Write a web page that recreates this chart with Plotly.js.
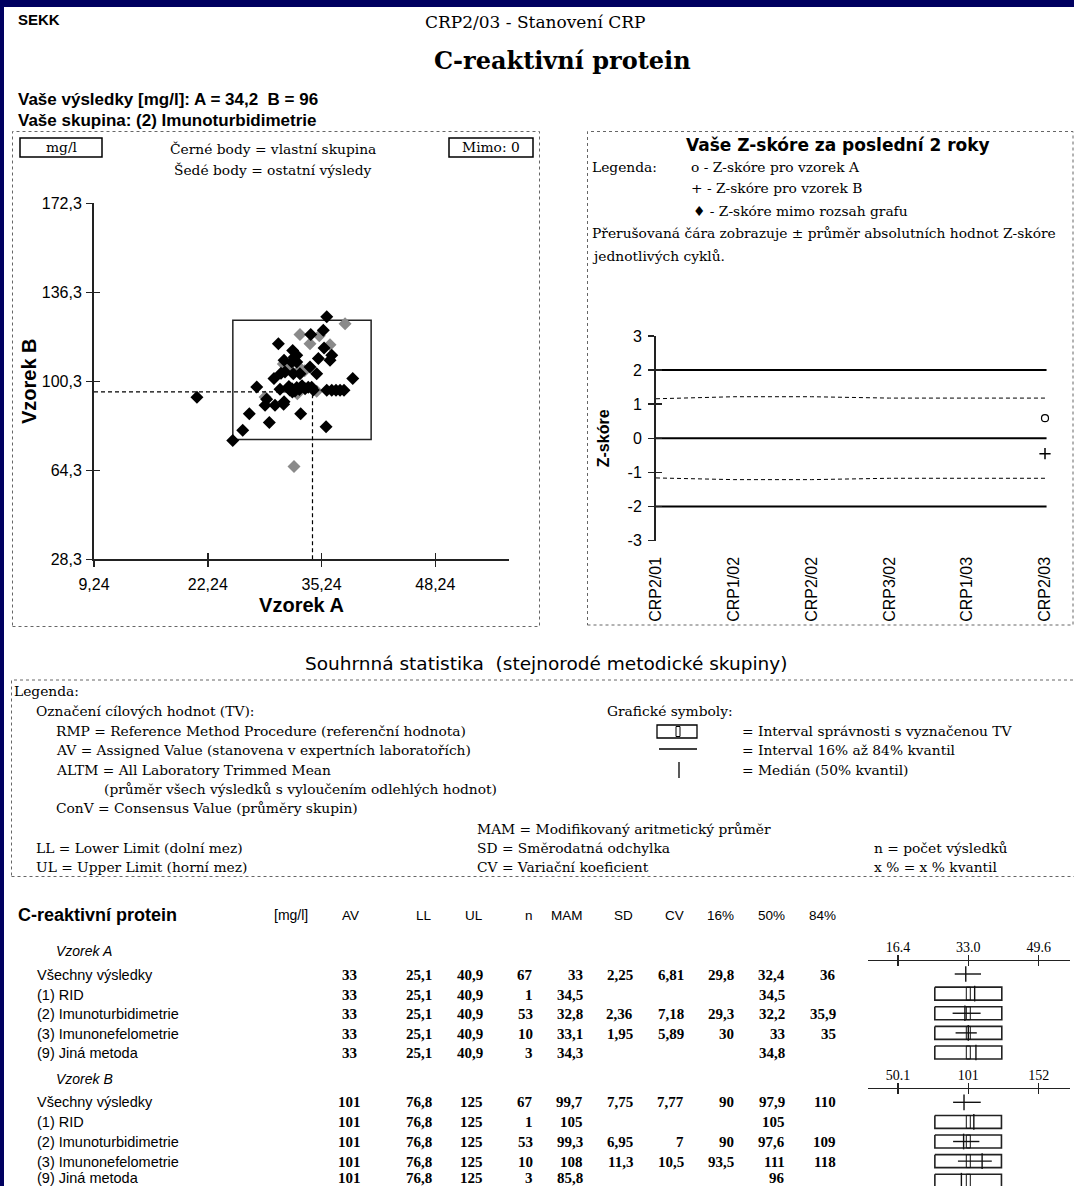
<!DOCTYPE html>
<html><head><meta charset="utf-8">
<script src="https://cdn.plot.ly/plotly-3.0.1.min.js"></script>
<style>html,body{margin:0;padding:0;background:#000060;}#chart{width:1074px;height:1186px;}</style>
</head><body><div id="chart"></div>
<script>
// ================= DATA =================
// Scatter: own group (black) and other results (grey), [mg/l]
const ownA = [35.83,35.44,34.0,30.30,35.52,31.94,32.40,36.40,36.20,34.87,30.95,31.83,32.40,33.92,31.06,32.01,32.77,34.68,29.80,38.80,27.83,30.49,
  31.86,31.5,32.2,31.9,32.4,31.6,33.72,34.11,33.35,34.3,35.83,36.40,36.89,37.35,37.80,28.97,28.78,29.92,30.95,30.9,26.98,32.85,29.27,35.75,26.23,25.09,21.0,32.1,30.6,33.0,32.7];
const ownB = [126.4,120.9,119.2,115.5,113.8,112.8,110.8,110.8,108.8,109.5,108.8,108.1,108.1,106.1,104.1,103.4,103.4,103.4,101.4,101.4,98.0,97.1,
  97.3,98.2,96.4,96.0,97.8,96.8,97.9,97.9,97.3,96.8,96.7,96.7,96.7,96.7,96.7,93.0,90.6,90.6,92.0,91.0,87.2,87.2,83.6,81.9,80.5,76.4,93.8,110.0,103.6,98.5,97.0];
const otherA = [37.92,32.77,34.98,33.92,36.20,32.85,30.87,33.3,34.68,32.47,28.78,32.4,32.09,31.5];
const otherB = [123.6,119.2,118.7,115.5,115.1,105.4,107.3,104.6,96.3,95.3,94.0,95.9,65.8,106.5];
const yourResult = [34.2, 96];            // [A, B]
const scatterTicksA = [9.24, 22.24, 35.24, 48.24];
const scatterTicksB = [28.3, 64.3, 100.3, 136.3, 172.3];
const outsideCount = 0;

// Z-score history
const zCycles = ['CRP2/01','CRP1/02','CRP2/02','CRP3/02','CRP1/03','CRP2/03'];
const zScoreA = [null,null,null,null,null,0.59];
const zScoreB = [null,null,null,null,null,-0.45];
const zMeanAbsUpper = [1.16,1.22,1.22,1.18,1.18,1.18];
const zMeanAbsLower = [-1.16,-1.21,-1.21,-1.17,-1.17,-1.17];
const zLimitLines = [2, 0, -2];
const zTicks = [-3,-2,-1,0,1,2,3];

// Summary statistics
const groups = ['Všechny výsledky','(1) RID','(2) Imunoturbidimetrie','(3) Imunonefelometrie','(9) Jiná metoda'];
const AV_A  = [33,33,33,33,33];
const LL_A  = [25.1,25.1,25.1,25.1,25.1];
const UL_A  = [40.9,40.9,40.9,40.9,40.9];
const n_A   = [67,1,53,10,3];
const MAM_A = [33,34.5,32.8,33.1,34.3];
const SD_A  = [2.25,null,2.36,1.95,null];
const CV_A  = [6.81,null,7.18,5.89,null];
const q16_A = [29.8,null,29.3,30,null];
const q50_A = [32.4,34.5,32.2,33,34.8];
const q84_A = [36,null,35.9,35,null];

const AV_B  = [101,101,101,101,101];
const LL_B  = [76.8,76.8,76.8,76.8,76.8];
const UL_B  = [125,125,125,125,125];
const n_B   = [67,1,53,10,3];
const MAM_B = [99.7,105,99.3,108,85.8];
const SD_B  = [7.75,null,6.95,11.3,null];
const CV_B  = [7.77,null,7,10.5,null];
const q16_B = [90,null,90,93.5,null];
const q50_B = [97.9,105,97.6,111,96];
const q84_B = [110,null,109,118,null];

const miniTicksA = [16.4, 33.0, 49.6];
const miniTickTextA = ['16.4','33.0','49.6'];
const miniTicksB = [50.1, 101, 152];
const miniTickTextB = ['50.1','101','152'];

// ================= HELPERS =================
const W = 1074, H = 1186;
const px = x => x / W, py = y => 1 - y / H;
const SERIF = 'DejaVu Serif', SANS = 'Liberation Sans, Arial', TSERIF = 'Liberation Serif, Times New Roman', VSANS = 'DejaVu Sans';
const LSZ = 13.8;
const ann = [], shapes = [];
function T(x, y, text, o = {}) {
  ann.push({xref:'paper', yref:'paper', x:px(x), y:py(y), text:text, showarrow:false,
    xanchor:o.anchor || 'left', yanchor:'middle', textangle:o.angle || 0, borderpad:0,
    font:{family:o.family || SERIF, size:o.size || LSZ, color:'#000', weight:o.bold ? 'bold' : 'normal', style:o.italic ? 'italic' : 'normal'}});
}
function R(x0, y0, x1, y1, o = {}) {
  shapes.push({type:'rect', xref:'paper', yref:'paper', x0:px(x0), x1:px(x1), y0:py(y1), y1:py(y0),
    line:{color:o.color || '#000', width:o.width === undefined ? 1 : o.width, dash:o.dash || 'solid'},
    fillcolor:o.fill || 'rgba(0,0,0,0)', layer:o.layer || 'above'});
}
function Ln(x0, y0, x1, y1, o = {}) {
  shapes.push({type:'line', xref:'paper', yref:'paper', x0:px(x0), x1:px(x1), y0:py(y0), y1:py(y1),
    line:{color:o.color || '#000', width:o.width || 1, dash:o.dash || 'solid'}, layer:'above'});
}
const fmt = v => (v === null || v === undefined) ? '' : String(v).replace('.', ',');

// page background
R(4, 7, 1074, 1186, {fill:'#ffffff', color:'#ffffff', width:0, layer:'below'});

// ================= HEADER TEXT =================
T(17, 19, 'SEKK', {family:SANS, bold:true, size:15});
T(535, 22, 'CRP2/03 - Stanovení CRP', {anchor:'center', size:17});
T(562, 60, 'C-reaktivní protein', {anchor:'center', size:24, bold:true});
T(17, 100, 'Vaše výsledky [mg/l]: A = ' + fmt(yourResult[0]) + '\u00a0 B = ' + fmt(yourResult[1]), {family:SANS, bold:true, size:17});
T(17, 121, 'Vaše skupina: (2) Imunoturbidimetrie', {family:SANS, bold:true, size:17});

// ================= SCATTER PANEL =================
R(12.5, 131.5, 539.5, 626.5, {color:'#666', dash:'dot', width:1});
R(20, 138, 102, 157, {width:1.5});
T(61, 147.5, 'mg/l', {anchor:'center'});
R(449, 138, 533, 157, {width:1.5});
T(491, 147.5, 'Mimo: ' + outsideCount, {anchor:'center'});
T(273, 149, 'Černé body = vlastní skupina', {anchor:'center'});
T(273, 170, 'Šedé body = ostatní výsledy', {anchor:'center'});
// acceptance rectangle from the limits
shapes.push({type:'rect', xref:'x', yref:'y', x0:LL_A[0], x1:UL_A[0], y0:LL_B[0], y1:UL_B[0],
  line:{color:'#222', width:1.5}, fillcolor:'rgba(0,0,0,0)', layer:'below'});

// ================= Z-SCORE PANEL =================
R(587.5, 131.5, 1073, 625, {color:'#666', dash:'dot', width:1});
T(838, 145, 'Vaše Z-skóre za poslední 2 roky', {anchor:'center', family:VSANS, bold:true, size:17});
T(591, 167, 'Legenda:');
T(690, 167, 'o - Z-skóre pro vzorek A');
T(690, 188, '+ - Z-skóre pro vzorek B');
T(692, 211, '\u2666 - Z-skóre mimo rozsah grafu');
T(591, 233, 'Přerušovaná čára zobrazuje ± průměr absolutních hodnot Z-skóre');
T(591, 256, 'jednotlivých cyklů.');
zLimitLines.forEach(v => shapes.push({type:'line', xref:'x2 domain', yref:'y2', x0:0, x1:1.004, y0:v, y1:v,
  line:{color:'#000', width:2}, layer:'below'}));

// ================= SUMMARY LEGEND =================
T(546, 663, 'Souhrnná statistika\u00a0 (stejnorodé metodické skupiny)', {anchor:'center', family:VSANS, size:18.5});
R(11.5, 680, 1080, 876.5, {color:'#666', dash:'dot', width:1});
const legL = [
  [13, 691, 'Legenda:'],
  [35, 711, 'Označení cílových hodnot (TV):'],
  [55, 731, 'RMP = Reference Method Procedure (referenční hodnota)'],
  [55, 750, 'AV = Assigned Value (stanovena v expertních laboratořích)'],
  [55, 770, 'ALTM = All Laboratory Trimmed Mean'],
  [103, 789, '(průměr všech výsledků s vyloučením odlehlých hodnot)'],
  [55, 808, 'ConV = Consensus Value (průměry skupin)'],
  [476, 829, 'MAM = Modifikovaný aritmetický průměr'],
  [35, 848, 'LL = Lower Limit (dolní mez)'],
  [476, 848, 'SD = Směrodatná odchylka'],
  [873, 848, 'n = počet výsledků'],
  [35, 867, 'UL = Upper Limit (horní mez)'],
  [476, 867, 'CV = Variační koeficient'],
  [873, 867, 'x % = x % kvantil'],
  [606, 711, 'Grafické symboly:'],
  [741, 731, '= Interval správnosti s vyznačenou TV'],
  [741, 750, '= Interval 16% až 84% kvantil'],
  [741, 770, '= Medián (50% kvantil)']
];
legL.forEach(l => T(l[0], l[1], l[2]));
R(657, 725, 697, 738, {width:1.3});
R(676, 726.5, 680, 736.5, {width:1});
Ln(659, 749, 697, 749, {width:1.3});
Ln(679, 762, 679, 778, {width:1.3});

// ================= TABLE =================
T(17, 915, 'C-reaktivní protein', {family:SANS, bold:true, size:18});
T(291, 915, '[mg/l]', {anchor:'center', family:SANS, size:14});
const cols = [
  ['AV', 360], ['LL', 433], ['UL', 484], ['n', 534], ['MAM', 584], ['SD', 634], ['CV', 685], ['16%', 735], ['50%', 786], ['84%', 837]
];
cols.forEach(c => T(c[1], 915, c[0], {anchor:'right', family:SANS, size:13.5}));
function tableBlock(label, yLabel, rowsY, av, ll, ul, n, mam, sd, cv, q16, q50, q84) {
  T(55, yLabel, label, {family:SANS, italic:true, size:14});
  groups.forEach((g, i) => {
    const y = rowsY[i];
    T(36, y, g, {family:SANS, size:14.5});
    T(349.5, y, fmt(av[i]), {anchor:'center', family:TSERIF, bold:true, size:15});
    const vals = [ll[i], ul[i], n[i], mam[i], sd[i], cv[i], q16[i], q50[i], q84[i]];
    vals.forEach((v, k) => { if (v !== null) T(cols[k + 1][1], y, fmt(v), {anchor:'right', family:TSERIF, bold:true, size:15}); });
  });
}
tableBlock('Vzorek A', 951, [975, 995, 1014.3, 1034, 1053.3], AV_A, LL_A, UL_A, n_A, MAM_A, SD_A, CV_A, q16_A, q50_A, q84_A);
tableBlock('Vzorek B', 1079.3, [1102.3, 1122.3, 1141.7, 1161.7, 1177.5], AV_B, LL_B, UL_B, n_B, MAM_B, SD_B, CV_B, q16_B, q50_B, q84_B);

// mini charts: build traces from the table arrays
function miniTraces(xa, ya, ll, ul, av, q16, q50, q84) {
  const rx = [], ry = [], mx = [], my = [], bx = [], by = [];
  groups.forEach((g, i) => {
    if (q16[i] !== null && q84[i] !== null) { rx.push(q16[i], q84[i], null); ry.push(i, i, null); }
    mx.push(q50[i], q50[i], null); my.push(i - 0.4, i + 0.4, null);
    if (i > 0) {
      bx.push(ll[i], ul[i], ul[i], ll[i], ll[i], null);
      by.push(i - 0.33, i - 0.33, i + 0.33, i + 0.33, i - 0.33, null);
      shapes.push({type:'rect', xref:xa, yref:ya, xsizemode:'pixel', xanchor:av[i], x0:-2, x1:2,
        y0:i - 0.33, y1:i + 0.33, line:{color:'#111', width:1}, fillcolor:'rgba(0,0,0,0)', layer:'above'});
    }
  });
  const st = {mode:'lines', hoverinfo:'skip', showlegend:false, line:{color:'#111', width:1.4}};
  return [
    Object.assign({x:bx, y:by, xaxis:xa, yaxis:ya}, st, {line:{color:'#222', width:1.6}}),
    Object.assign({x:rx, y:ry, xaxis:xa, yaxis:ya}, st),
    Object.assign({x:mx, y:my, xaxis:xa, yaxis:ya}, st)
  ];
}

// ================= TRACES =================
const dash = '4px,3px';
const traces = [
  {x:otherA, y:otherB, mode:'markers', xaxis:'x', yaxis:'y', marker:{symbol:'diamond', size:10, color:'#8a8a8a'}, showlegend:false, cliponaxis:false},
  {x:ownA, y:ownB, mode:'markers', xaxis:'x', yaxis:'y', marker:{symbol:'diamond', size:10, color:'#000'}, showlegend:false, cliponaxis:false},
  {x:[scatterTicksA[0], yourResult[0]], y:[yourResult[1], yourResult[1]], mode:'lines', xaxis:'x', yaxis:'y', line:{color:'#000', width:1.2, dash:dash}, showlegend:false},
  {x:[yourResult[0], yourResult[0]], y:[scatterTicksB[0], yourResult[1]], mode:'lines', xaxis:'x', yaxis:'y', line:{color:'#000', width:1.2, dash:dash}, showlegend:false},
  {x:[], y:[], xaxis:'x5', yaxis:'y', showlegend:false},
  {x:[], y:[], xaxis:'x', yaxis:'y9', showlegend:false},

  {x:zCycles, y:zMeanAbsUpper, mode:'lines', xaxis:'x2', yaxis:'y2', line:{color:'#000', width:1, dash:dash}, showlegend:false},
  {x:zCycles, y:zMeanAbsLower, mode:'lines', xaxis:'x2', yaxis:'y2', line:{color:'#000', width:1, dash:dash}, showlegend:false},
  {x:zCycles, y:zScoreA, mode:'markers', xaxis:'x2', yaxis:'y2', marker:{symbol:'circle-open', size:7, color:'#000', line:{width:1.2}}, showlegend:false, cliponaxis:false},
  {x:zCycles, y:zScoreB, mode:'markers', xaxis:'x2', yaxis:'y2', marker:{symbol:'cross-thin-open', size:8, color:'#000', line:{width:1.5, color:'#000'}}, showlegend:false, cliponaxis:false},
  {x:[], y:[], xaxis:'x2', yaxis:'y6', showlegend:false},

  ...miniTraces('x3', 'y3', LL_A, UL_A, AV_A, q16_A, q50_A, q84_A),
  ...miniTraces('x4', 'y4', LL_B, UL_B, AV_B, q16_B, q50_B, q84_B),
  {x:[], y:[], xaxis:'x7', yaxis:'y3', showlegend:false},
  {x:[], y:[], xaxis:'x8', yaxis:'y4', showlegend:false}
];

// ================= LAYOUT =================
const base = {showgrid:false, zeroline:false, fixedrange:true};
const sctX = [scatterTicksA[0], 56.65];
const sctY = [scatterTicksB[0], scatterTicksB[scatterTicksB.length - 1]];
const pA = 4.241, pB = 70.4 / 50.95;
const miniRangeA = [33 - 100.3 / pA, 33 + 101.7 / pA];
const miniRangeB = [101 - 100.3 / pB, 101 + 101.7 / pB];
const comma = a => a.map(v => String(v).replace('.', ','));
const layout = {
  width:W, height:H, margin:{l:0, r:0, t:0, b:0}, paper_bgcolor:'#000060', plot_bgcolor:'rgba(0,0,0,0)',
  showlegend:false, annotations:ann, shapes:shapes,
  xaxis:Object.assign({}, base, {domain:[px(94), px(509)], range:sctX, anchor:'y', showline:true, linecolor:'#222', linewidth:2,
    ticks:'outside', ticklen:6, tickwidth:1.5, tickcolor:'#222', tickmode:'array', tickvals:scatterTicksA, ticktext:comma(scatterTicksA),
    tickfont:{family:SANS, size:16, color:'#000'}, ticklabelstandoff:3,
    title:{text:'Vzorek A', font:{family:SANS, size:20, weight:'bold', color:'#000'}, standoff:6}}),
  yaxis:Object.assign({}, base, {domain:[py(559.3), py(203.3)], range:sctY, anchor:'x', showline:true, linecolor:'#222', linewidth:2,
    ticks:'outside', ticklen:6, tickwidth:1.5, tickcolor:'#222', tickmode:'array', tickvals:scatterTicksB, ticktext:comma(scatterTicksB),
    tickfont:{family:SANS, size:16, color:'#000'}, ticklabelstandoff:1,
    title:{text:'Vzorek B', font:{family:SANS, size:20, weight:'bold', color:'#000'}, standoff:0}}),
  xaxis5:Object.assign({}, base, {overlaying:'x', anchor:'y', range:sctX, ticks:'inside', ticklen:6, tickwidth:1.5, tickcolor:'#222',
    tickmode:'array', tickvals:scatterTicksA, showticklabels:false, showline:false}),
  yaxis9:Object.assign({}, base, {overlaying:'y', anchor:'x', range:sctY, ticks:'inside', ticklen:6, tickwidth:1.5, tickcolor:'#222',
    tickmode:'array', tickvals:scatterTicksB, showticklabels:false, showline:false}),

  xaxis2:Object.assign({}, base, {domain:[px(656), px(1045)], type:'category', categoryorder:'array', categoryarray:zCycles, range:[0, 5],
    anchor:'y2', showline:false, ticks:'', tickangle:-90, tickfont:{family:SANS, size:16, color:'#000'}, ticklabelstandoff:12}),
  yaxis2:Object.assign({}, base, {domain:[py(540.7), py(336)], range:[-3, 3], anchor:'x2', showline:true, linecolor:'#222', linewidth:2,
    ticks:'outside', ticklen:6, tickwidth:1.5, tickcolor:'#222', tickmode:'array', tickvals:zTicks, ticktext:zTicks.map(String),
    tickfont:{family:SANS, size:16, color:'#000'}, ticklabelstandoff:3,
    title:{text:'Z-skóre', font:{family:SANS, size:16, weight:'bold', color:'#000'}, standoff:14}}),
  yaxis6:Object.assign({}, base, {overlaying:'y2', anchor:'x2', range:[-3, 3], ticks:'inside', ticklen:6, tickwidth:1.5, tickcolor:'#222',
    tickmode:'array', tickvals:zTicks, showticklabels:false, showline:false}),

  xaxis3:Object.assign({}, base, {domain:[px(868), px(1070)], range:miniRangeA, anchor:'y3', side:'top', showline:true, linecolor:'#222', linewidth:1.5,
    ticks:'inside', ticklen:5, tickwidth:1.3, tickcolor:'#222', tickmode:'array', tickvals:miniTicksA, ticktext:miniTickTextA,
    tickfont:{family:TSERIF, size:14, color:'#000'}, ticklabelstandoff:2}),
  yaxis3:Object.assign({}, base, {domain:[py(1063), py(961)], range:[4.534, -0.662], anchor:'x3', visible:false}),
  xaxis7:Object.assign({}, base, {overlaying:'x3', anchor:'y3', side:'top', range:miniRangeA, ticks:'outside', ticklen:5, tickwidth:1.3, tickcolor:'#222',
    tickmode:'array', tickvals:miniTicksA, showticklabels:false, showline:false}),
  xaxis4:Object.assign({}, base, {domain:[px(868), px(1070)], range:miniRangeB, anchor:'y4', side:'top', showline:true, linecolor:'#222', linewidth:1.5,
    ticks:'inside', ticklen:5, tickwidth:1.3, tickcolor:'#222', tickmode:'array', tickvals:miniTicksB, ticktext:miniTickTextB,
    tickfont:{family:TSERIF, size:14, color:'#000'}, ticklabelstandoff:2}),
  yaxis4:Object.assign({}, base, {domain:[0, py(1089)], range:[4.27, -0.679], anchor:'x4', visible:false}),
  xaxis8:Object.assign({}, base, {overlaying:'x4', anchor:'y4', side:'top', range:miniRangeB, ticks:'outside', ticklen:5, tickwidth:1.3, tickcolor:'#222',
    tickmode:'array', tickvals:miniTicksB, showticklabels:false, showline:false})
};
Plotly.newPlot('chart', traces, layout, {displayModeBar:false, staticPlot:true});
</script></body></html>
